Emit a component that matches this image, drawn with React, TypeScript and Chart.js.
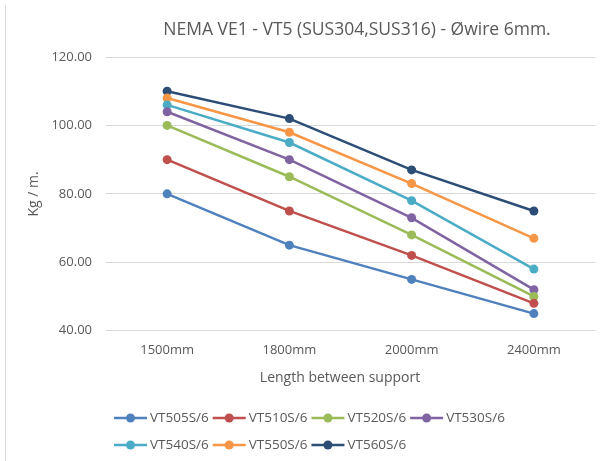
import React, { useEffect, useRef } from "react";
import { Chart, registerables } from "chart.js";

Chart.register(...registerables);

const TITLE = "NEMA VE1 - VT5 (SUS304,SUS316) - Øwire 6mm.";
const X_TITLE = "Length between support";
const Y_TITLE = "Kg / m.";
const categories = ["1500mm", "1800mm", "2000mm", "2400mm"];
const seriesNames = ["VT505S/6", "VT510S/6", "VT520S/6", "VT530S/6", "VT540S/6", "VT550S/6", "VT560S/6"];
const vt505 = [80, 65, 55, 45];
const vt510 = [90, 75, 62, 48];
const vt520 = [100, 85, 68, 50];
const vt530 = [104, 90, 73, 52];
const vt540 = [106, 95, 78, 58];
const vt550 = [108, 98, 83, 67];
const vt560 = [110, 102, 87, 75];
const seriesValues = [vt505, vt510, vt520, vt530, vt540, vt550, vt560];
const colors = ["#4F81BD", "#C0504D", "#9BBB59", "#8064A2", "#4BACC6", "#F79646", "#2C4D75"];
const Y_MIN = 40;
const Y_MAX = 120;
const Y_STEP = 20;

const FONT = "'Open Sans', 'DejaVu Sans', sans-serif";
const TEXT = "#595959";
const GRID = "#d9d9d9";

const decorPlugin = {
  id: "decor",
  beforeDraw(chart: any) {
    const ctx = chart.ctx;
    ctx.save();
    ctx.strokeStyle = GRID;
    ctx.lineWidth = 1;
    ctx.beginPath();
    ctx.moveTo(5.5, 5);
    ctx.lineTo(5.5, chart.height);
    ctx.stroke();
    ctx.restore();
  },
  afterDraw(chart: any) {
    const ctx = chart.ctx;
    ctx.save();
    // title
    ctx.fillStyle = TEXT;
    ctx.font = `17.5px ${FONT}`;
    ctx.textAlign = "center";
    ctx.textBaseline = "middle";
    ctx.fillText(TITLE, 357, 30);
    // x axis title
    ctx.font = `14px ${FONT}`;
    ctx.fillText(X_TITLE, 340, 378);
    // legend
    ctx.font = `13.5px ${FONT}`;
    ctx.textAlign = "left";
    const rows = [[0, 1, 2, 3], [4, 5, 6]];
    const rowY = [418, 445];
    rows.forEach((row, ri) => {
      let x = 114;
      const y = rowY[ri];
      row.forEach((i) => {
        const ds = chart.data.datasets[i];
        ctx.strokeStyle = ds.borderColor;
        ctx.lineWidth = 2.5;
        ctx.beginPath();
        ctx.moveTo(x, y);
        ctx.lineTo(x + 33, y);
        ctx.stroke();
        ctx.fillStyle = ds.borderColor;
        ctx.beginPath();
        ctx.arc(x + 16.5, y, 4.5, 0, Math.PI * 2);
        ctx.fill();
        ctx.fillStyle = TEXT;
        ctx.fillText(ds.label, x + 36, y + 0.5);
        x += 36 + ctx.measureText(ds.label).width + 4;
      });
    });
    ctx.restore();
  },
};

export default function App() {
  const ref = useRef<HTMLCanvasElement | null>(null);
  useEffect(() => {
    if (!ref.current) return;
    const chart = new Chart(ref.current, {
      type: "line",
      data: {
        labels: categories,
        datasets: seriesNames.map((name, i) => ({
          label: name,
          data: seriesValues[i],
          borderColor: colors[i],
          backgroundColor: colors[i],
          pointBackgroundColor: colors[i],
          pointBorderColor: colors[i],
          borderWidth: 2.5,
          pointRadius: 4.5,
          pointBorderWidth: 0,
          tension: 0,
        })),
      },
      options: {
        responsive: false,
        animation: false,
        layout: { padding: { left: 21.6, right: 7, top: 57, bottom: 70.6 } },
        plugins: {
          legend: { display: false },
          title: { display: false },
          tooltip: { enabled: false },
        },
        scales: {
          x: {
            offset: true,
            grid: { display: false, drawTicks: false },
            border: { display: false },
            ticks: { color: TEXT, font: { family: FONT, size: 13 }, padding: 11.5, maxRotation: 0 },
            title: { display: false },
            afterFit(scale: any) {
              scale.height = 59.7;
            },
          },
          y: {
            min: Y_MIN,
            max: Y_MAX,
            grid: { color: GRID, lineWidth: 1, drawTicks: false },
            border: { display: false },
            ticks: {
              stepSize: Y_STEP,
              color: TEXT,
              font: { family: FONT, size: 13 },
              padding: 14,
              callback: (v: any) => Number(v).toFixed(2),
            },
            title: { display: true, text: Y_TITLE, color: TEXT, font: { family: FONT, size: 14 } },
            afterFit(scale: any) {
              scale.width = 106 - 21.6;
            },
          },
        },
      },
      plugins: [decorPlugin],
    });
    return () => chart.destroy();
  }, []);
  return (
    <div style={{ position: "fixed", left: 0, top: 0, width: 602, height: 461, background: "#fff" }}>
      <canvas ref={ref} width={602} height={461} style={{ width: 602, height: 461, display: "block" }} />
    </div>
  );
}
